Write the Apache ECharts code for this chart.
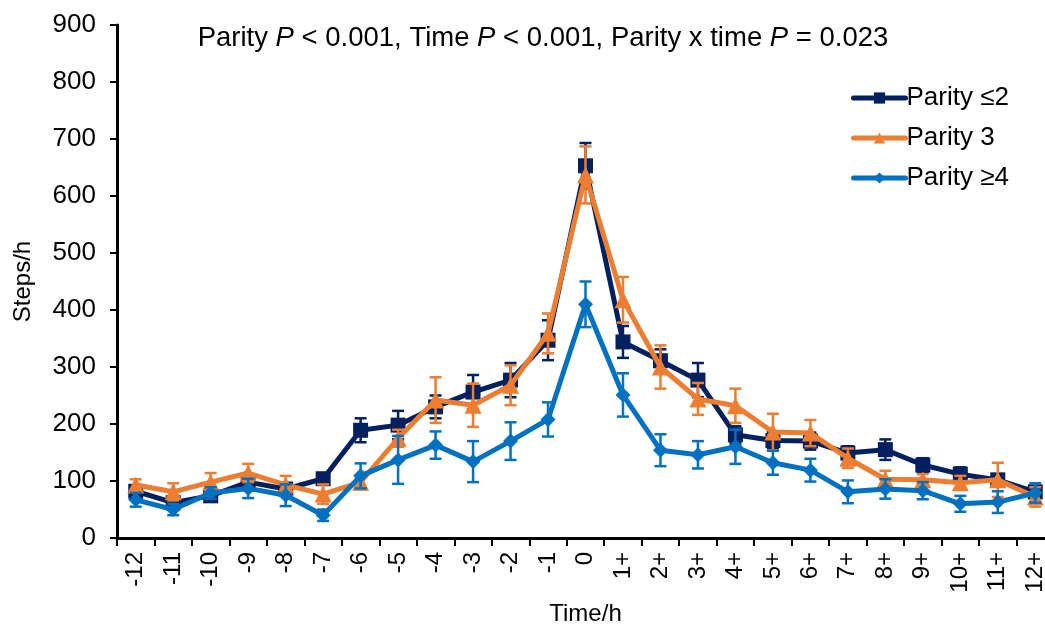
<!DOCTYPE html>
<html>
<head>
<meta charset="utf-8">
<script src="https://cdn.jsdelivr.net/npm/echarts@6/dist/echarts.min.js"></script>
<style>
html,body{margin:0;padding:0;background:#fff;}
#chart{width:1045px;height:626px;}
</style>
</head>
<body>
<div id="chart"></div>
<script>
var categories = ['-12','-11','-10','-9','-8','-7','-6','-5','-4','-3','-2','-1','0','1+','2+','3+','4+','5+','6+','7+','8+','9+','10+','11+','12+'];
var yTicks = [0,100,200,300,400,500,600,700,800,900];

var parityLe2     = [82, 62, 74, 98, 86, 104, 189, 198, 230, 256, 277, 347, 653, 344, 311, 277, 181, 171, 170, 149, 155, 128, 112, 102, 81];
var parityLe2Err  = [10, 8, 8, 8, 8, 8, 21, 25, 20, 30, 30, 35, 40, 28, 20, 30, 15, 15, 15, 12, 18, 12, 12, 10, 10];
var parity3       = [93, 81, 98, 114, 93, 77, 98, 175, 242, 233, 268, 359, 637, 418, 300, 244, 232, 186, 184, 140, 103, 102, 97, 102, 72];
var parity3Err    = [10, 15, 16, 16, 16, 17, 12, 15, 40, 38, 35, 35, 50, 40, 38, 28, 30, 32, 23, 17, 15, 10, 12, 30, 17];
var parityGe4     = [67, 50, 79, 87, 75, 40, 109, 137, 163, 134, 170, 208, 410, 251, 154, 146, 160, 132, 119, 81, 86, 83, 60, 63, 79];
var parityGe4Err  = [12, 10, 10, 17, 19, 10, 22, 42, 24, 36, 33, 30, 40, 38, 28, 24, 30, 21, 20, 20, 17, 15, 14, 19, 17];

var seriesNames = ['Parity \u22642', 'Parity 3', 'Parity \u22654'];
var colors = ['#002060', '#ED7D31', '#0070C0'];
var symbols = ['rect', 'triangle', 'diamond'];
var symbolSizes = [15, 17, 15];
var means = [parityLe2, parity3, parityGe4];
var errs = [parityLe2Err, parity3Err, parityGe4Err];

var FONT = '"Liberation Sans", Arial, sans-serif';

function errData(m, e) {
  return m.map(function (v, i) { return [i, v - e[i], v + e[i]]; });
}

function makeErrRender(color) {
  return function (params, api) {
    var x = api.value(0);
    var lo = api.coord([x, api.value(1)]);
    var hi = api.coord([x, api.value(2)]);
    var half = 6;
    var style = { stroke: color, lineWidth: 2.5 };
    return {
      type: 'group',
      children: [
        { type: 'line', shape: { x1: lo[0], y1: lo[1], x2: hi[0], y2: hi[1] }, style: style },
        { type: 'line', shape: { x1: lo[0] - half, y1: lo[1], x2: lo[0] + half, y2: lo[1] }, style: style },
        { type: 'line', shape: { x1: hi[0] - half, y1: hi[1], x2: hi[0] + half, y2: hi[1] }, style: style }
      ]
    };
  };
}

var series = [];
for (var k = 0; k < 3; k++) {
  series.push({
    type: 'custom',
    name: seriesNames[k] + ' err',
    renderItem: makeErrRender(colors[k]),
    data: errData(means[k], errs[k]),
    encode: { x: 0, y: [1, 2] },
    z: 2 + k * 2,
    silent: true
  });
  series.push({
    type: 'line',
    name: seriesNames[k],
    data: means[k],
    symbol: symbols[k],
    symbolSize: symbolSizes[k],
    itemStyle: { color: colors[k] },
    lineStyle: { color: colors[k], width: 5 },
    z: 3 + k * 2,
    animation: false
  });
}

var chart = echarts.init(document.getElementById('chart'), null, { renderer: 'canvas' });
chart.setOption({
  animation: false,
  backgroundColor: '#ffffff',
  textStyle: { fontFamily: FONT },
  title: {
    text: 'Parity {i|P} < 0.001, Time {i|P} < 0.001, Parity x time {i|P} = 0.023',
    left: 538,
    top: 19,
    textAlign: 'center',
    textStyle: {
      fontFamily: FONT,
      fontSize: 27.5,
      fontWeight: 'normal',
      color: '#000',
      rich: {
        i: { fontFamily: FONT, fontSize: 27.5, fontStyle: 'italic', color: '#000' }
      }
    }
  },
  legend: {
    data: seriesNames,
    orient: 'vertical',
    left: 846,
    top: 80,
    itemWidth: 52,
    itemHeight: 14,
    itemGap: 14,
    lineStyle: { width: 5, cap: 'round' },
    textStyle: { fontFamily: FONT, fontSize: 26, color: '#000', padding: [0, 0, 0, -4] }
  },
  grid: { left: 117, right: -9, top: 25, bottom: 88, containLabel: false, outerBoundsMode: 'none' },
  xAxis: {
    type: 'category',
    data: categories,
    boundaryGap: true,
    name: 'Time/h',
    nameLocation: 'middle',
    nameGap: 64,
    nameTextStyle: { fontFamily: FONT, fontSize: 24, color: '#000' },
    axisLine: { lineStyle: { color: '#000', width: 3 } },
    axisTick: { show: true, alignWithLabel: false, length: 8, lineStyle: { color: '#000', width: 2 } },
    axisLabel: { rotate: 90, margin: 14, fontFamily: FONT, fontSize: 24, color: '#000', interval: 0 },
    splitLine: { show: false }
  },
  yAxis: {
    type: 'value',
    min: yTicks[0],
    max: yTicks[yTicks.length - 1],
    interval: 100,
    name: 'Steps/h',
    nameLocation: 'middle',
    nameGap: 82,
    nameRotate: 90,
    nameTextStyle: { fontFamily: FONT, fontSize: 24, color: '#000' },
    axisLine: { show: true, lineStyle: { color: '#000', width: 3 } },
    axisTick: { show: true, inside: false, length: 7, lineStyle: { color: '#000', width: 2 } },
    axisLabel: { margin: 21, fontFamily: FONT, fontSize: 26, color: '#000' },
    splitLine: { show: false }
  },
  series: series
});
</script>
</body>
</html>
